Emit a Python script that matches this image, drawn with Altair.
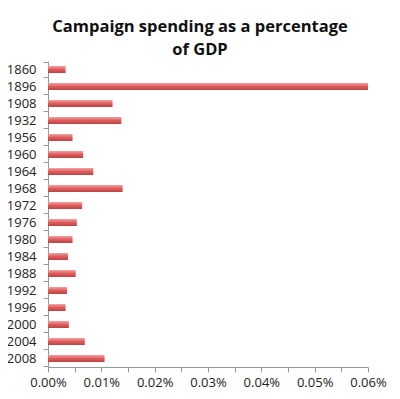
import altair as alt
import pandas as pd

years = ["1860", "1896", "1908", "1932", "1956", "1960", "1964", "1968", "1972",
         "1976", "1980", "1984", "1988", "1992", "1996", "2000", "2004", "2008"]
# campaign spending as a fraction of GDP (0.0001 = 0.01%)
spending = [0.000033, 0.0006, 0.000121, 0.0001375, 0.000046, 0.000066, 0.000085,
            0.00014, 0.000064, 0.000054, 0.000046, 0.0000375, 0.000052, 0.0000356,
            0.000033, 0.000039, 0.000069, 0.000106]
x_ticks = [round(i * 5) / 100000 for i in range(13)]

df = pd.DataFrame({"year": years, "value": spending})

grad = alt.Gradient(
    gradient="linear",
    stops=[alt.GradientStop(color="#f2a3a3", offset=0),
           alt.GradientStop(color="#e05c5c", offset=0.5),
           alt.GradientStop(color="#b84444", offset=1)],
    x1=0, x2=0, y1=0, y2=1,
)

chart = alt.Chart(df).mark_bar(color=grad, size=7, cornerRadius=0).encode(
    y=alt.Y("year:N", sort=years, title=None,
            axis=alt.Axis(tickBand="extent", labelFont="Open Sans", labelFontSize=13,
                          labelColor="#222", domainColor="#999", tickColor="#999",
                          tickSize=5, labelPadding=7, grid=False)),
    x=alt.X("value:Q", title=None,
            scale=alt.Scale(domain=[0, 0.0006], nice=False),
            axis=alt.Axis(values=x_ticks,
                          labelExpr="round(datum.value*20000) % 2 == 0 ? format(datum.value, '.2%') : ''",
                          labelFont="Open Sans", labelFontSize=13, labelColor="#222",
                          domainColor="#999", tickColor="#999", tickSize=5,
                          labelPadding=4, grid=False, labelFlush=False,
                          labelOverlap=False)),
).properties(
    width=320, height=306,
    title=alt.TitleParams(["Campaign spending as a percentage", "of GDP"],
                          font="Open Sans", fontSize=16.5, fontWeight="bold",
                          color="#111", anchor="middle", dx=-8, offset=-3, lineHeight=23),
    autosize=alt.AutoSizeParams(type="none"),
    padding={"left": 40, "top": 53, "right": 24, "bottom": 24},
).configure_view(stroke=None)

chart.save("out.html", embed_options={"renderer": "svg", "actions": False})
